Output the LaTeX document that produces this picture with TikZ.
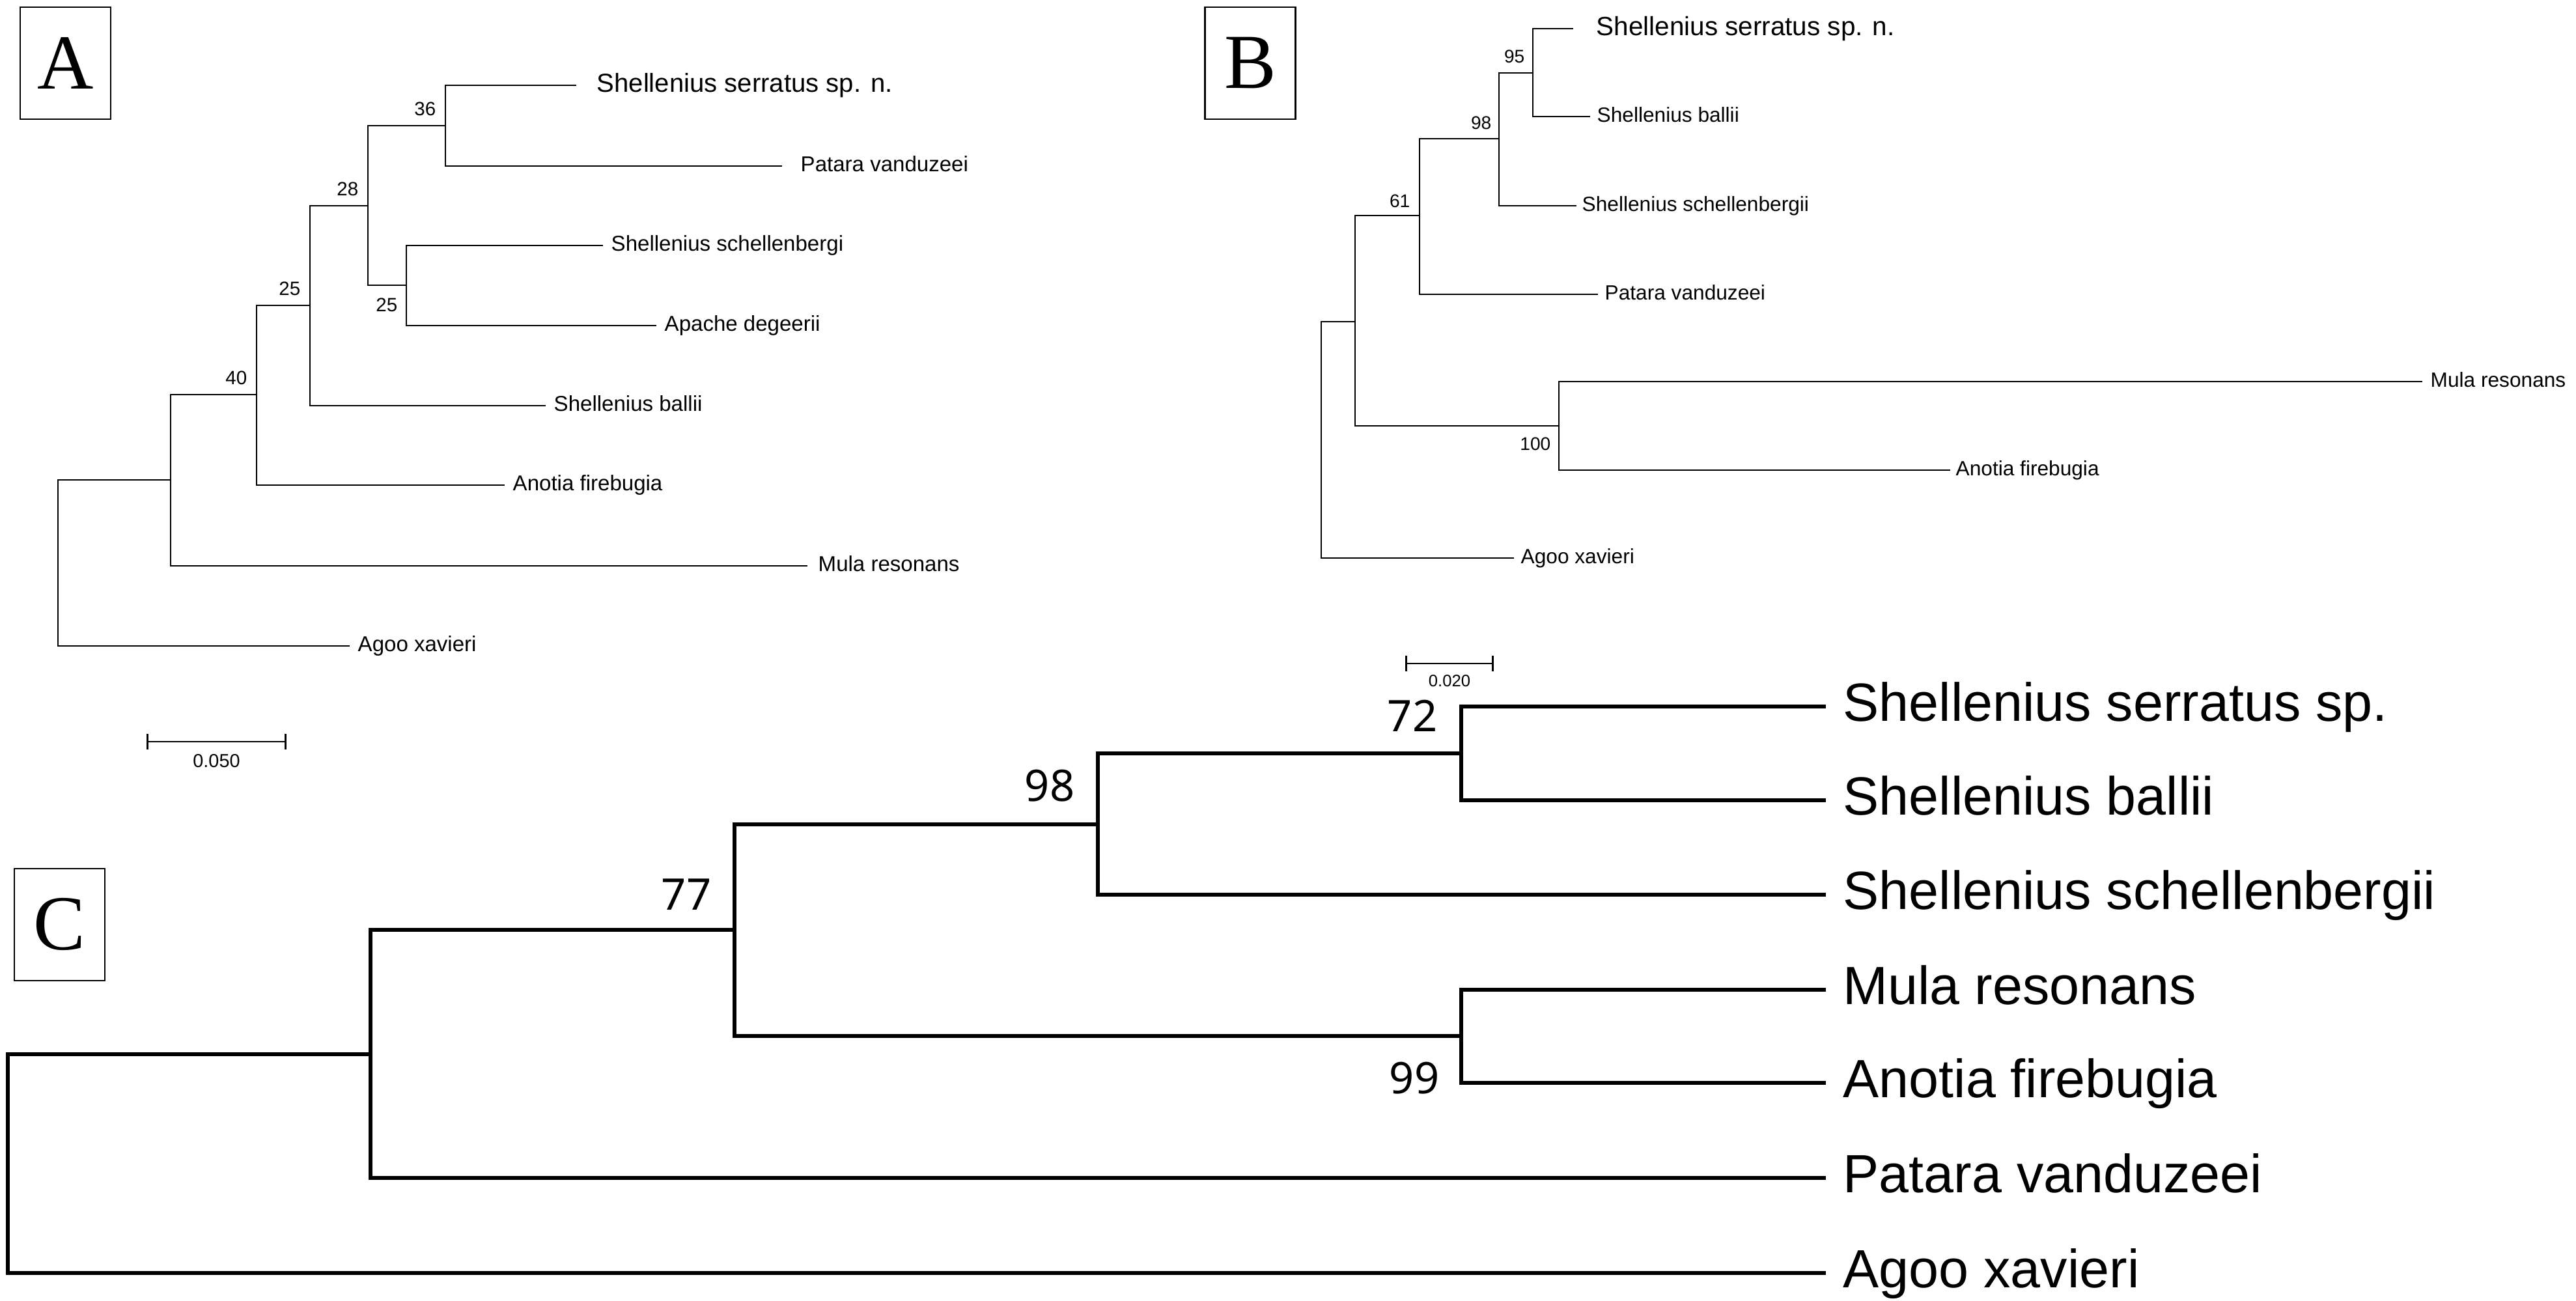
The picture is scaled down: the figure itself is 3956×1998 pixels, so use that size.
\documentclass[tikz,border=0pt]{standalone}
\usepackage{fontspec}
\setmainfont{Liberation Sans}
\newfontfamily\panelfont{Liberation Serif}
\newfontfamily\bootfont{Noto Sans}
\usetikzlibrary{arrows.meta,positioning}

\begin{document}
\begin{tikzpicture}[x=0.01cm, y=-0.01cm,
    branch/.style={line width=0.75pt},
    branchC/.style={line width=1.55pt},
    panel/.style={draw, line width=0.8pt, minimum width=1.39cm, minimum height=1.72cm, inner sep=0pt, font=\panelfont\fontsize{34}{34}\selectfont},
    leafA/.style={anchor=west, inner xsep=0.12cm, inner ysep=0pt, text height=6.7pt, text depth=1.6pt, font=\fontsize{9.4}{11}\selectfont},
    bigA/.style={leafA, text height=8.2pt, text depth=2pt, font=\fontsize{11.4}{13}\selectfont},
    leafB/.style={anchor=west, inner xsep=0.1cm, inner ysep=0pt, text height=6.45pt, text depth=1.55pt, font=\fontsize{9}{11}\selectfont},
    bigB/.style={leafB, text height=8.2pt, text depth=2pt, font=\fontsize{11.5}{13}\selectfont},
    leafC/.style={anchor=west, inner xsep=0.26cm, inner ysep=0pt, text height=16.8pt, text depth=4pt, font=\fontsize{23.5}{26}\selectfont},
    bsA/.style={inner sep=0pt, font=\fontsize{8.4}{9}\selectfont},
    bsB/.style={inner sep=0pt, font=\fontsize{8}{9}\selectfont},
    bsC/.style={inner sep=0pt, font=\bootfont\fontsize{19}{20}\selectfont},
    scaletext/.style={inner sep=0pt, font=\fontsize{8.2}{9}\selectfont}]
    \useasboundingbox (0,0) rectangle (3956,1998);

    % panel A
    \node[panel] (pA) at (100.5,97) {A};
    \coordinate (aR) at (89,864);
    \coordinate (aU) at (262,737);
    \coordinate (a40) at (394,606);
    \coordinate (a25o) at (476,469);
    \coordinate (a28) at (565,316);
    \coordinate (a36) at (684,193);
    \coordinate (a25i) at (624,438);

    \node[bigA, inner xsep=0.31cm] (aSerr) at (885,131) {Shellenius serratus sp. n.};
    \node[leafA, inner xsep=0.28cm] (aPat) at (1201,255) {Patara vanduzeei};
    \node[leafA] (aSch) at (926,377) {Shellenius schellenbergi};
    \node[leafA] (aApa) at (1008,500) {Apache degeerii};
    \node[leafA] (aBal) at (838,623) {Shellenius ballii};
    \node[leafA] (aAno) at (775,745) {Anotia firebugia};
    \node[leafA, inner xsep=0.16cm] (aMul) at (1240,869) {Mula resonans};
    \node[leafA] (aAgo) at (537,992) {Agoo xavieri};

    \foreach \p/\c in {aR/aU, aR/aAgo, aU/a40, aU/aMul, a40/a25o, a40/aAno,
                       a25o/a28, a25o/aBal, a28/a36, a28/a25i, a36/aSerr,
                       a36/aPat, a25i/aSch, a25i/aApa}
        \draw[branch] (\p) |- (\c);

    \node[bsA, above left=0.14cm and 0.14cm of a36] {36};
    \node[bsA, above left=0.14cm and 0.14cm of a28] {28};
    \node[bsA, above left=0.14cm and 0.14cm of a25o] {25};
    \node[bsA, above left=0.14cm and 0.14cm of a40] {40};
    \node[bsA, below left=0.19cm and 0.13cm of a25i] {25};

    \coordinate (sA1) at (225,1139);
    \coordinate (sA2) at (440,1139);
    \draw[branch, {Bar[width=0.23cm]}-{Bar[width=0.23cm]}] (sA1) -- (sA2);
    \node[scaletext] (sAt) at (332.5,1169) {0.050};

    % panel B
    \node[panel] (pB) at (1920,97) {B};
    \coordinate (bR) at (2029,675);
    \coordinate (bU) at (2081,494);
    \coordinate (b61) at (2180,331);
    \coordinate (b98) at (2302,213);
    \coordinate (b95) at (2354,112);
    \coordinate (b100) at (2394,654);

    \node[bigB, inner xsep=0.35cm] (bSerr) at (2416,44) {Shellenius serratus sp. n.};
    \node[leafB] (bBal) at (2442,179) {Shellenius ballii};
    \node[leafB, inner xsep=0.08cm] (bSch) at (2421,316) {Shellenius schellenbergii};
    \node[leafB] (bPat) at (2454,452) {Patara vanduzeei};
    \node[leafB, inner xsep=0.12cm] (bMul) at (3720,586) {Mula resonans};
    \node[leafB, inner xsep=0.08cm] (bAno) at (2995,722) {Anotia firebugia};
    \node[leafB] (bAgo) at (2325,857) {Agoo xavieri};

    \foreach \p/\c in {bR/bU, bR/bAgo, bU/b61, bU/b100, b61/b98, b61/bPat,
                       b98/b95, b98/bSch, b95/bSerr, b95/bBal, b100/bMul, b100/bAno}
        \draw[branch] (\p) |- (\c);

    \node[bsB, above left=0.14cm and 0.12cm of b95] {95};
    \node[bsB, above left=0.14cm and 0.11cm of b98] {98};
    \node[bsB, above left=0.12cm and 0.14cm of b61] {61};
    \node[bsB, below left=0.17cm and 0.12cm of b100] {100};

    \coordinate (sB1) at (2158,1019);
    \coordinate (sB2) at (2294,1019);
    \draw[branch, {Bar[width=0.24cm]}-{Bar[width=0.24cm]}] (sB1) -- (sB2);
    \node[scaletext, font=\fontsize{7.3}{8}\selectfont] (sBt) at (2226,1046) {0.020};

    % panel C
    \node[panel] (pC) at (91.5,1420) {C};
    \coordinate (cR) at (12,1787);
    \coordinate (cU) at (569,1619);
    \coordinate (c77) at (1128,1428);
    \coordinate (c98) at (1686,1266);
    \coordinate (c72) at (2244,1157);
    \coordinate (c99) at (2244,1591);

    \foreach \y/\nm/\txt in {1085/cSerr/{Shellenius serratus sp.}, 1229/cBal/{Shellenius ballii},
                             1374/cSch/{Shellenius schellenbergii}, 1520/cMul/{Mula resonans},
                             1663/cAno/{Anotia firebugia}, 1809/cPat/{Patara vanduzeei},
                             1955/cAgo/{Agoo xavieri}}
        \node[leafC] (\nm) at (2804,\y) {\txt};

    \foreach \p/\c in {cR/cU, cR/cAgo, cU/c77, cU/cPat, c77/c98, c77/c99,
                       c98/c72, c98/cSch, c72/cSerr, c72/cBal, c99/cMul, c99/cAno}
        \draw[branchC] (\p) |- (\c);

    \node[bsC, above left=0.30cm and 0.35cm of c77] {77};
    \node[bsC, above left=0.34cm and 0.35cm of c98] {98};
    \node[bsC, above left=0.33cm and 0.36cm of c72] {72};
    \node[bsC, below left=0.39cm and 0.33cm of c99] {99};
\end{tikzpicture}
\end{document}
